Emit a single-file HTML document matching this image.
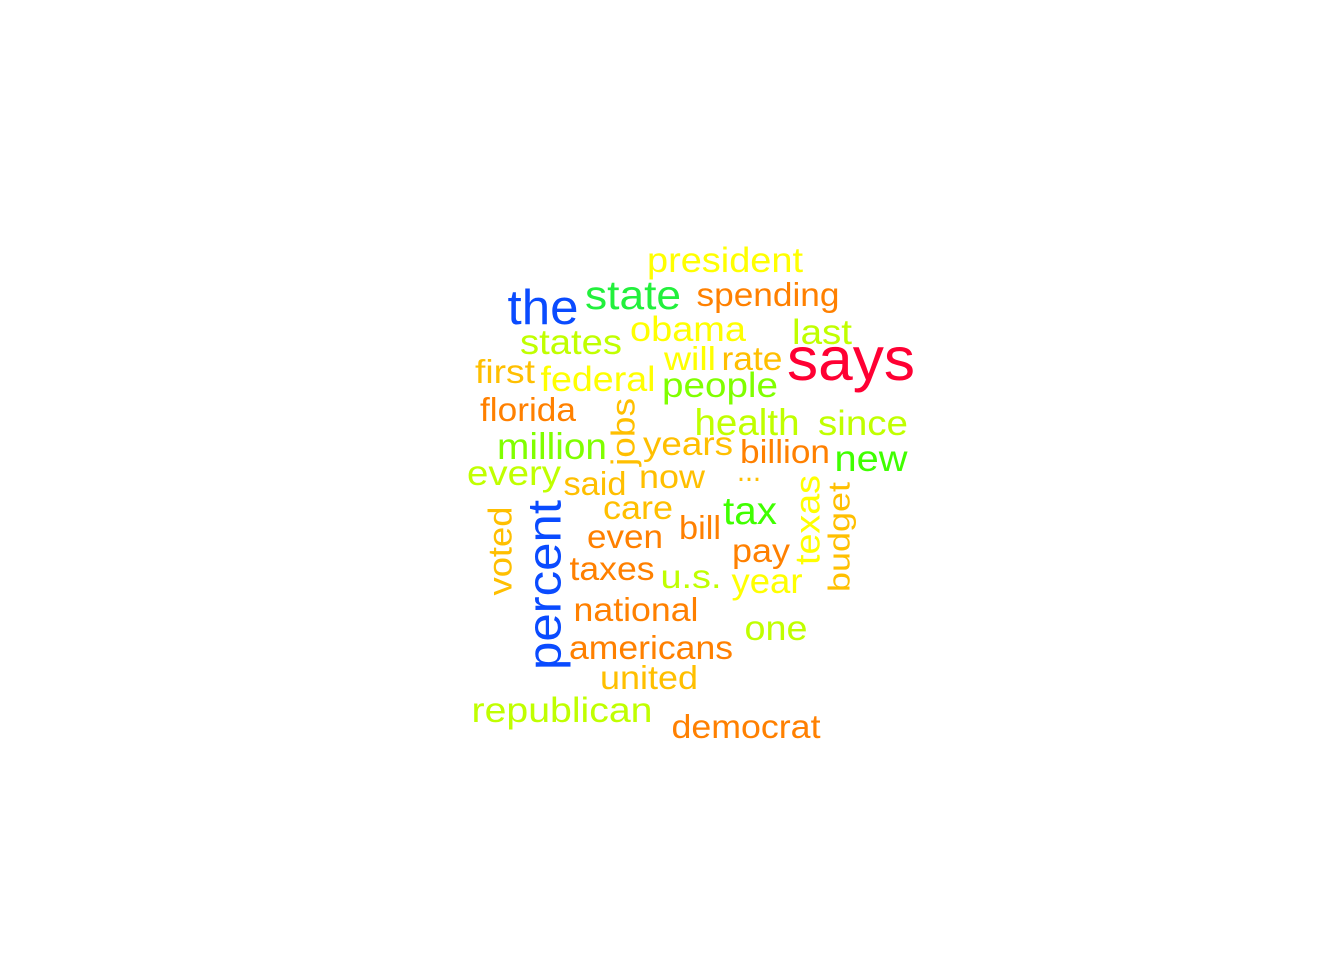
<!DOCTYPE html>
<html><head><meta charset="utf-8"><style>
html,body{margin:0;padding:0;background:#fff;}
svg{display:block;}
text{font-family:"Liberation Sans",Arial,sans-serif;text-anchor:middle;}
</style></head><body>
<svg width="1344" height="960" viewBox="0 0 1344 960">
<rect width="1344" height="960" fill="#fff"/>
<text x="725" y="272" font-size="35" textLength="156" lengthAdjust="spacingAndGlyphs" fill="#FFFF00">president</text>
<text x="543" y="324" font-size="49" textLength="71" lengthAdjust="spacingAndGlyphs" fill="#0A4BFF">the</text>
<text x="633" y="309" font-size="41" textLength="96" lengthAdjust="spacingAndGlyphs" fill="#22F03C">state</text>
<text x="768" y="306" font-size="33" textLength="143" lengthAdjust="spacingAndGlyphs" fill="#FF8000">spending</text>
<text x="688" y="341" font-size="35" textLength="116" lengthAdjust="spacingAndGlyphs" fill="#FFFF00">obama</text>
<text x="822" y="344" font-size="35" textLength="60" lengthAdjust="spacingAndGlyphs" fill="#C0FF00">last</text>
<text x="571" y="354" font-size="35" textLength="102" lengthAdjust="spacingAndGlyphs" fill="#C0FF00">states</text>
<text x="851" y="380" font-size="61" textLength="128" lengthAdjust="spacingAndGlyphs" fill="#FF0033">says</text>
<text x="690" y="370" font-size="33" textLength="52" lengthAdjust="spacingAndGlyphs" fill="#FFFF00">will</text>
<text x="752" y="370" font-size="33" textLength="61" lengthAdjust="spacingAndGlyphs" fill="#FFBF00">rate</text>
<text x="505" y="383" font-size="33" textLength="60" lengthAdjust="spacingAndGlyphs" fill="#FFBF00">first</text>
<text x="598" y="391" font-size="35" textLength="115" lengthAdjust="spacingAndGlyphs" fill="#FFFF00">federal</text>
<text x="720" y="397" font-size="35" textLength="116" lengthAdjust="spacingAndGlyphs" fill="#80FF00">people</text>
<text x="528" y="421" font-size="33" textLength="96" lengthAdjust="spacingAndGlyphs" fill="#FF8000">florida</text>
<text x="0" y="0" font-size="33" textLength="68" lengthAdjust="spacingAndGlyphs" fill="#FFBF00" dominant-baseline="central" transform="translate(623,432) rotate(-90)">jobs</text>
<text x="747" y="435" font-size="37" textLength="105" lengthAdjust="spacingAndGlyphs" fill="#C0FF00">health</text>
<text x="863" y="435" font-size="35" textLength="90" lengthAdjust="spacingAndGlyphs" fill="#C0FF00">since</text>
<text x="552" y="459" font-size="37" textLength="110" lengthAdjust="spacingAndGlyphs" fill="#80FF00">million</text>
<text x="688" y="455" font-size="33" textLength="90" lengthAdjust="spacingAndGlyphs" fill="#FFBF00">years</text>
<text x="785" y="463" font-size="33" textLength="90" lengthAdjust="spacingAndGlyphs" fill="#FF8000">billion</text>
<text x="871" y="471" font-size="37" textLength="73" lengthAdjust="spacingAndGlyphs" fill="#40FF00">new</text>
<text x="514" y="485" font-size="35" textLength="94" lengthAdjust="spacingAndGlyphs" fill="#C0FF00">every</text>
<text x="595" y="495" font-size="33" textLength="63" lengthAdjust="spacingAndGlyphs" fill="#FFBF00">said</text>
<text x="672" y="488" font-size="33" textLength="66" lengthAdjust="spacingAndGlyphs" fill="#FFBF00">now</text>
<text x="749" y="481" font-size="31" textLength="24" lengthAdjust="spacingAndGlyphs" fill="#FFBF00">...</text>
<text x="750" y="524" font-size="39" textLength="54" lengthAdjust="spacingAndGlyphs" fill="#40FF00">tax</text>
<text x="0" y="0" font-size="35" textLength="90" lengthAdjust="spacingAndGlyphs" fill="#FFFF00" dominant-baseline="central" transform="translate(808,520) rotate(-90)">texas</text>
<text x="0" y="0" font-size="31" textLength="110" lengthAdjust="spacingAndGlyphs" fill="#FFBF00" dominant-baseline="central" transform="translate(839,537) rotate(-90)">budget</text>
<text x="638" y="519" font-size="33" textLength="70" lengthAdjust="spacingAndGlyphs" fill="#FFBF00">care</text>
<text x="700" y="539" font-size="33" textLength="42" lengthAdjust="spacingAndGlyphs" fill="#FF8000">bill</text>
<text x="0" y="0" font-size="33" textLength="89" lengthAdjust="spacingAndGlyphs" fill="#FFBF00" dominant-baseline="central" transform="translate(500,551) rotate(-90)">voted</text>
<text x="0" y="0" font-size="47" textLength="170" lengthAdjust="spacingAndGlyphs" fill="#0A4BFF" dominant-baseline="central" transform="translate(544,585) rotate(-90)">percent</text>
<text x="625" y="548" font-size="33" textLength="76" lengthAdjust="spacingAndGlyphs" fill="#FF8000">even</text>
<text x="761" y="562" font-size="33" textLength="58" lengthAdjust="spacingAndGlyphs" fill="#FF8000">pay</text>
<text x="612" y="580" font-size="33" textLength="85" lengthAdjust="spacingAndGlyphs" fill="#FF8000">taxes</text>
<text x="691" y="588" font-size="33" textLength="61" lengthAdjust="spacingAndGlyphs" fill="#C0FF00">u.s.</text>
<text x="767" y="593" font-size="35" textLength="71" lengthAdjust="spacingAndGlyphs" fill="#FFFF00">year</text>
<text x="636" y="621" font-size="33" textLength="125" lengthAdjust="spacingAndGlyphs" fill="#FF8000">national</text>
<text x="776" y="640" font-size="35" textLength="63" lengthAdjust="spacingAndGlyphs" fill="#C0FF00">one</text>
<text x="651" y="659" font-size="33" textLength="164" lengthAdjust="spacingAndGlyphs" fill="#FF8000">americans</text>
<text x="649" y="689" font-size="33" textLength="98" lengthAdjust="spacingAndGlyphs" fill="#FFBF00">united</text>
<text x="562" y="722" font-size="35" textLength="181" lengthAdjust="spacingAndGlyphs" fill="#C0FF00">republican</text>
<text x="746" y="738" font-size="33" textLength="149" lengthAdjust="spacingAndGlyphs" fill="#FF8000">democrat</text>
</svg>
</body></html>
